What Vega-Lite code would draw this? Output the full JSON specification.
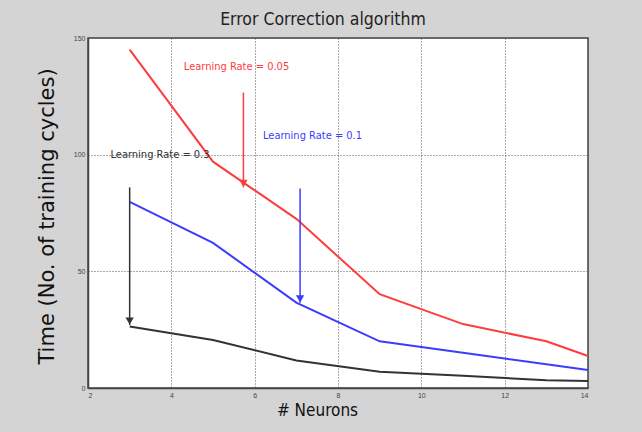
{
  "$schema": "https://vega.github.io/schema/vega-lite/v6.json",
  "width": 500,
  "height": 350,
  "autosize": {"type": "none"},
  "padding": {"left": 88, "top": 38, "right": 54, "bottom": 44},
  "background": "#d4d4d4",
  "config": {
    "view": {"fill": "white", "stroke": "#444444", "strokeWidth": 1.5},
    "font": "Liberation Sans"
  },
  "title": {
    "text": "Error Correction algorithm",
    "fontSize": 17.5,
    "font": "'DejaVu Sans Condensed', 'Liberation Sans'",
    "fontWeight": "normal",
    "color": "#222222",
    "offset": 6,
    "dx": -15
  },
  "datasets": {
    "lines": [
      {"series": "0.05", "n": 3, "t": 145},
      {"series": "0.05", "n": 5, "t": 97},
      {"series": "0.05", "n": 7, "t": 72.5},
      {"series": "0.05", "n": 9, "t": 40.2},
      {"series": "0.05", "n": 11, "t": 27.4},
      {"series": "0.05", "n": 13, "t": 20},
      {"series": "0.05", "n": 14, "t": 13.7},
      {"series": "0.1", "n": 3, "t": 79.8},
      {"series": "0.1", "n": 5, "t": 62.2},
      {"series": "0.1", "n": 7, "t": 36.6},
      {"series": "0.1", "n": 9, "t": 20},
      {"series": "0.1", "n": 11, "t": 15.1},
      {"series": "0.1", "n": 13, "t": 10.2},
      {"series": "0.1", "n": 14, "t": 7.7},
      {"series": "0.3", "n": 3, "t": 26.4},
      {"series": "0.3", "n": 5, "t": 20.6},
      {"series": "0.3", "n": 7, "t": 11.8},
      {"series": "0.3", "n": 9, "t": 7},
      {"series": "0.3", "n": 11, "t": 5.2},
      {"series": "0.3", "n": 13, "t": 3.3},
      {"series": "0.3", "n": 14, "t": 3}
    ],
    "arrows": [
      {"series": "0.3", "n": 3, "top": 86, "tip": 27},
      {"series": "0.05", "n": 5.73, "top": 126.6, "tip": 86},
      {"series": "0.1", "n": 7.09, "top": 85.5, "tip": 36.5}
    ],
    "labels": [
      {"series": "0.05", "n": 4.3, "t": 137.5, "label": "Learning Rate = 0.05"},
      {"series": "0.1", "n": 6.2, "t": 108, "label": "Learning Rate = 0.1"},
      {"series": "0.3", "n": 2.54, "t": 100, "label": "Learning Rate = 0.3"}
    ]
  },
  "layer": [
    {
      "data": {"name": "lines"},
      "mark": {"type": "line", "strokeWidth": 2},
      "encoding": {
        "x": {
          "field": "n",
          "type": "quantitative",
          "scale": {"domain": [2, 14], "nice": false, "zero": false},
          "axis": {
            "values": [2, 4, 6, 8, 10, 12, 14],
            "grid": true,
            "gridDash": [1, 2],
            "gridColor": "#555555",
            "gridOpacity": 1,
            "ticks": false,
            "labelFontSize": 7,
            "labelColor": "#444444",
            "labelPadding": 3,
            "labelFont": "Liberation Sans",
            "domainColor": "#444444",
            "domainWidth": 1.5,
            "title": "# Neurons",
            "titleFont": "'DejaVu Sans Condensed', 'Liberation Sans'",
            "titleFontSize": 17,
            "titleFontWeight": "normal",
            "titleColor": "#111111",
            "titleBaseline": "alphabetic",
            "titleX": 229,
            "titleY": 27
          }
        },
        "y": {
          "field": "t",
          "type": "quantitative",
          "scale": {"domain": [0, 150], "nice": false},
          "axis": {
            "values": [0, 50, 100, 150],
            "grid": true,
            "gridDash": [1, 2],
            "gridColor": "#555555",
            "gridOpacity": 1,
            "ticks": false,
            "labelFontSize": 7,
            "labelColor": "#444444",
            "labelPadding": 3,
            "labelFont": "Liberation Sans",
            "domainColor": "#444444",
            "domainWidth": 1.5,
            "title": "Time (No. of training cycles)",
            "titleFont": "DejaVu Sans",
            "titleFontSize": 21,
            "titleFontWeight": "normal",
            "titleColor": "#111111",
            "titleAngle": -90,
            "titleBaseline": "alphabetic",
            "titleAlign": "center",
            "titleX": -35,
            "titleY": 178
          }
        },
        "color": {
          "field": "series",
          "type": "nominal",
          "scale": {"domain": ["0.05", "0.1", "0.3"], "range": ["#ff3c3c", "#3c3cff", "#333333"]},
          "legend": null
        },
        "order": {"field": "n", "type": "quantitative"}
      }
    },
    {
      "data": {"name": "arrows"},
      "mark": {"type": "rule", "strokeWidth": 1.5},
      "encoding": {
        "x": {"field": "n", "type": "quantitative"},
        "y": {"field": "top", "type": "quantitative"},
        "y2": {"field": "tip"},
        "color": {"field": "series", "type": "nominal", "legend": null}
      }
    },
    {
      "data": {"name": "arrows"},
      "mark": {"type": "point", "shape": "triangle-down", "filled": true, "opacity": 1, "size": 70, "yOffset": -4},
      "encoding": {
        "x": {"field": "n", "type": "quantitative"},
        "y": {"field": "tip", "type": "quantitative"},
        "color": {"field": "series", "type": "nominal", "legend": null}
      }
    },
    {
      "data": {"name": "labels"},
      "mark": {"type": "text", "align": "left", "baseline": "middle", "fontSize": 11, "font": "'DejaVu Sans Condensed', 'Liberation Sans'"},
      "encoding": {
        "x": {"field": "n", "type": "quantitative"},
        "y": {"field": "t", "type": "quantitative"},
        "text": {"field": "label"},
        "color": {"field": "series", "type": "nominal", "legend": null}
      }
    }
  ]
}
